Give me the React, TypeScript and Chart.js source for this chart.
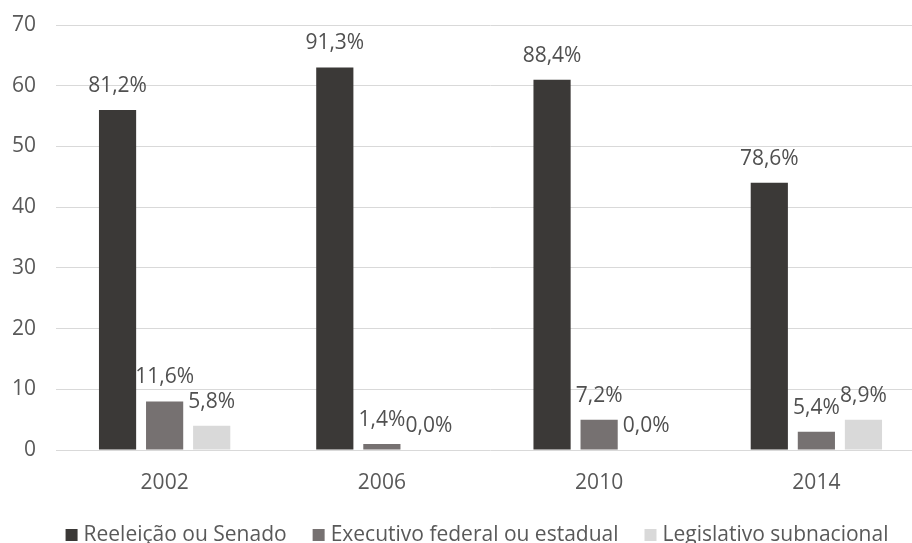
import React, { useEffect, useRef } from "react";
import { Chart, registerables } from "chart.js";

Chart.register(...registerables);

// Election years on the category axis
const years = ["2002", "2006", "2010", "2014"];

// Counts per destination
const reeleicaoSenado = [56, 63, 61, 44];
const executivoFederalEstadual = [8, 1, 5, 3];
const legislativoSubnacional = [4, 0, 0, 5];

// Share labels printed above each bar
const reeleicaoLabels = ["81,2%", "91,3%", "88,4%", "78,6%"];
const executivoLabels = ["11,6%", "1,4%", "7,2%", "5,4%"];
const legislativoLabels = ["5,8%", "0,0%", "0,0%", "8,9%"];

const seriesNames = [
  "Reeleição ou Senado",
  "Executivo federal ou estadual",
  "Legislativo subnacional",
];
const seriesColors = ["#3b3937", "#767171", "#d9d9d9"];
const seriesLabels = [reeleicaoLabels, executivoLabels, legislativoLabels];

const FONT_FAMILY = "'Open Sans', 'Liberation Sans', sans-serif";
const TEXT_COLOR = "#595959";
const FONT_SIZE = 21;

// Percent labels above the bars
const valueLabelPlugin = {
  id: "valueLabels",
  afterDatasetsDraw(chart: any) {
    const ctx = chart.ctx;
    ctx.save();
    ctx.font = `${FONT_SIZE}px ${FONT_FAMILY}`;
    ctx.fillStyle = "#505050";
    ctx.textAlign = "center";
    ctx.textBaseline = "middle";
    chart.data.datasets.forEach((ds: any, di: number) => {
      const meta = chart.getDatasetMeta(di);
      meta.data.forEach((bar: any, i: number) => {
        const txt = seriesLabels[di][i];
        ctx.fillText(txt, bar.x, bar.y - 24);
      });
    });
    ctx.restore();
  },
};

// Legend row under the axis
const legendPlugin = {
  id: "bottomLegend",
  afterDraw(chart: any) {
    const ctx = chart.ctx;
    const box = 12;
    const boxGap = 6;
    const itemGap = 26;
    ctx.save();
    ctx.font = `${FONT_SIZE}px ${FONT_FAMILY}`;
    const widths = seriesNames.map((n) => ctx.measureText(n).width);
    const total =
      widths.reduce((a, b) => a + b, 0) +
      seriesNames.length * (box + boxGap) +
      itemGap * (seriesNames.length - 1);
    const centerX = chart.width / 2 + 7;
    const cy = 535;
    let x = centerX - total / 2;
    seriesNames.forEach((name, i) => {
      ctx.fillStyle = seriesColors[i];
      ctx.fillRect(x, cy - box / 2, box, box);
      x += box + boxGap;
      ctx.fillStyle = TEXT_COLOR;
      ctx.textAlign = "left";
      ctx.textBaseline = "middle";
      ctx.fillText(name, x, cy);
      x += widths[i] + itemGap;
    });
    ctx.restore();
  },
};

export default function App() {
  const canvasRef = useRef<HTMLCanvasElement | null>(null);

  useEffect(() => {
    if (!canvasRef.current) return;
    const chart = new Chart(canvasRef.current, {
      type: "bar",
      data: {
        labels: years,
        datasets: [
          { label: seriesNames[0], data: reeleicaoSenado, backgroundColor: seriesColors[0] },
          { label: seriesNames[1], data: executivoFederalEstadual, backgroundColor: seriesColors[1] },
          { label: seriesNames[2], data: legislativoSubnacional, backgroundColor: seriesColors[2] },
        ],
      },
      options: {
        animation: false,
        responsive: true,
        maintainAspectRatio: false,
        layout: { padding: { left: 0, top: 25, right: 15, bottom: 49 } },
        datasets: {
          bar: { categoryPercentage: 0.65, barPercentage: 0.79 },
        },
        plugins: {
          legend: { display: false },
          tooltip: { enabled: false },
        },
        scales: {
          x: {
            grid: { display: false },
            border: { display: false },
            ticks: {
              color: TEXT_COLOR,
              font: { family: FONT_FAMILY, size: FONT_SIZE },
              padding: 12,
            },
            afterFit(scale: any) {
              scale.height = 44;
            },
          },
          y: {
            min: 0,
            max: 70,
            grid: { color: "#d9d9d9", lineWidth: 1, drawTicks: false },
            border: { display: false },
            ticks: {
              stepSize: 10,
              color: TEXT_COLOR,
              font: { family: FONT_FAMILY, size: FONT_SIZE },
              padding: 20,
            },
            afterFit(scale: any) {
              scale.width = 56;
              scale.paddingTop = 12;
              scale.paddingBottom = 12;
            },
          },
        },
      },
      plugins: [valueLabelPlugin, legendPlugin],
    });
    return () => chart.destroy();
  }, []);

  return (
    <div
      style={{
        position: "fixed",
        left: 0,
        top: 0,
        width: 912,
        height: 543,
        overflow: "hidden",
        background: "#ffffff",
      }}
    >
      <div style={{ position: "relative", width: 940, height: 543 }}>
        <canvas ref={canvasRef} />
      </div>
    </div>
  );
}
